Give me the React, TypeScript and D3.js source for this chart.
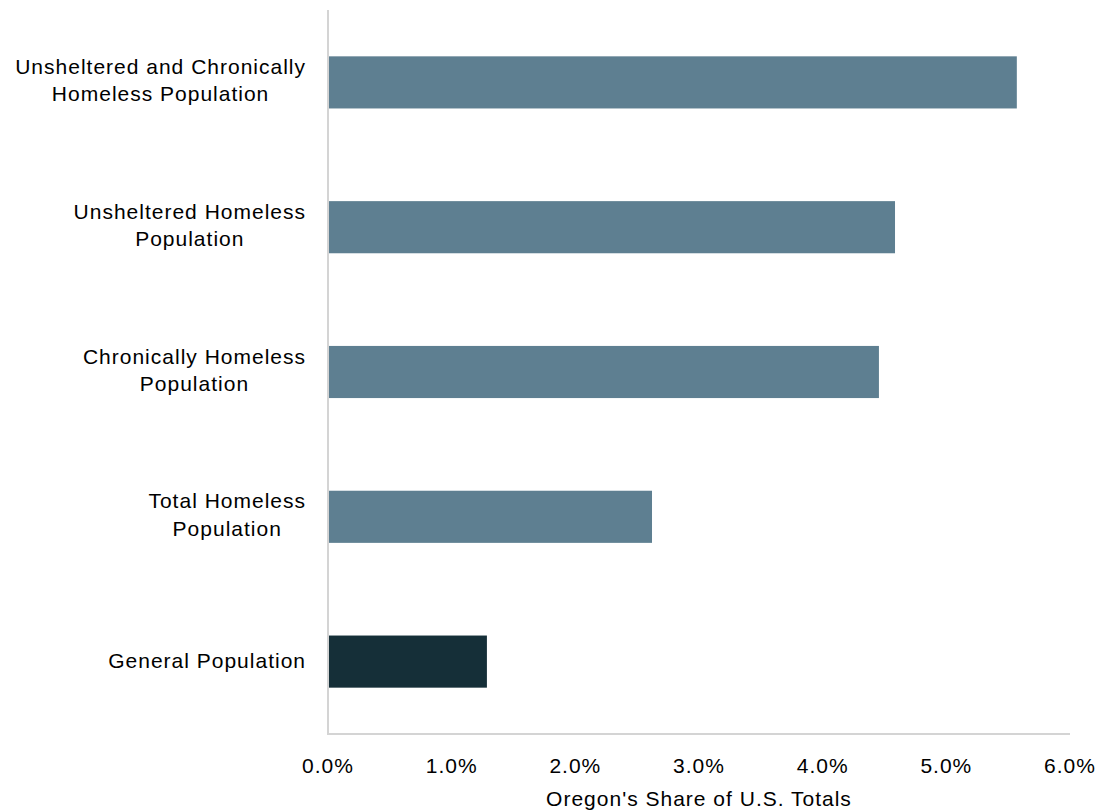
import React from "react";
import * as d3 from "d3";

const categories: string[][] = [
  ["Unsheltered and Chronically", "Homeless Population"],
  ["Unsheltered Homeless", "Population"],
  ["Chronically Homeless", "Population"],
  ["Total Homeless", "Population"],
  ["General Population"],
];
const values: number[] = [5.57, 4.585, 4.455, 2.62, 1.285];
const barColors: string[] = ["#5E7F91", "#5E7F91", "#5E7F91", "#5E7F91", "#152F38"];
const xTicks: number[] = [0, 1, 2, 3, 4, 5, 6];
const xTitle = "Oregon's Share of U.S. Totals";

const FONT_FAMILY = "'Liberation Sans', Arial, sans-serif";
const FONT_SIZE = 21;
const LS = 1;

function measure(s: string): number {
  if (typeof document === "undefined") return s.length * 10;
  const c = document.createElement("canvas").getContext("2d");
  if (!c) return s.length * 10;
  c.font = `${FONT_SIZE}px 'Liberation Sans'`;
  return c.measureText(s).width + LS * s.length;
}

export default function App() {
  const W = 1101, H = 810;
  const left = 328, right = 1070, top = 10, bottom = 734;
  const x = d3.scaleLinear().domain([0, 6]).range([left, right]);
  const y = d3.scaleBand<number>().domain(values.map((_, i) => i)).range([top, bottom]).paddingInner(0.64).paddingOuter(0.32);
  const labelRight = 305;
  return (
    <svg width={W} height={H} style={{ position: "absolute", left: 0, top: 0 }}>
      <rect width={W} height={H} fill="#fff" />
      {values.map((v, i) => (
        <rect key={i} x={x(0)} y={y(i)!} width={x(v) - x(0)} height={y.bandwidth()} fill={barColors[i]} />
      ))}
      <line x1={left} x2={left} y1={top} y2={bottom} stroke="#d4d4d4" strokeWidth={2} />
      <line x1={left - 1} x2={right} y1={bottom} y2={bottom} stroke="#d4d4d4" strokeWidth={2} />
      {categories.map((lines, i) => {
        const cy = y(i)! + y.bandwidth() / 2;
        if (lines.length === 1) {
          return (
            <text key={i} x={labelRight + LS} y={cy + 6.5} textAnchor="end" fontFamily={FONT_FAMILY} fontSize={FONT_SIZE} letterSpacing={LS} fill="#000">
              {lines[0]}
            </text>
          );
        }
        const maxW = Math.max(...lines.map(measure));
        const cx = labelRight + LS - maxW / 2;
        return (
          <text key={i} textAnchor="middle" fontFamily={FONT_FAMILY} fontSize={FONT_SIZE} letterSpacing={LS} fill="#000">
            {lines.map((l, j) => (
              <tspan key={j} x={cx} y={cy - 8.5 + j * 27.5}>
                {l}
              </tspan>
            ))}
          </text>
        );
      })}
      {xTicks.map((t) => (
        <text key={t} x={x(t)} y={773} textAnchor="middle" fontFamily={FONT_FAMILY} fontSize={FONT_SIZE} letterSpacing={LS} fill="#000">
          {t.toFixed(1) + "%"}
        </text>
      ))}
      <text x={699} y={806} textAnchor="middle" fontFamily={FONT_FAMILY} fontSize={FONT_SIZE} letterSpacing={LS} fill="#000">
        {xTitle}
      </text>
    </svg>
  );
}
